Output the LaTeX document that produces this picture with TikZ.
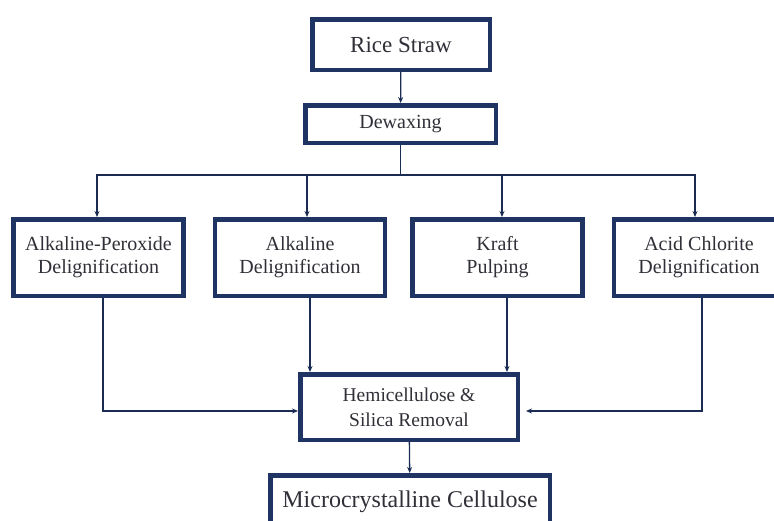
\documentclass[tikz,border=0pt]{standalone}
\usepackage{fontspec}
\setmainfont{Liberation Serif}
\usetikzlibrary{arrows.meta}
\definecolor{navy}{RGB}{31,52,98}
\definecolor{ink}{RGB}{48,48,56}

\tikzset{
	box/.style = {draw = navy,
				  line width = 4.5pt,
				  fill = white,
				  text = ink,
				  align = center,
				  inner sep = 2pt},
	stagebox/.style = {box,
					   minimum width = 170pt,
					   minimum height = 76.5pt,
					   font = \fontsize{20}{23}\selectfont},
	flow/.style = {draw = navy!85!black,
				   line width = 1.3pt,
				   -{Stealth[length = 6pt, width = 5pt]}},
	link/.style = {draw = navy!85!black,
				   line width = 1.3pt}
}

\begin{document}
\begin{tikzpicture}[x = 1pt, y = -1pt]
	\useasboundingbox (0,0) rectangle (774,520);
	\clip (0,0) rectangle (774,520);

	% top of the chain
	\node[box,
		  minimum width = 177.5pt,
		  minimum height = 50.5pt,
		  font = \fontsize{23}{26}\selectfont] (rice) at (401,44.5) {Rice Straw};
	\node[box,
		  minimum width = 190.5pt,
		  minimum height = 37.5pt,
		  font = \fontsize{20}{23}\selectfont] (dewax) at (400.5,124) {Dewaxing};

	% four routes
	\node[stagebox] (alkper) at (98.5,257.5) {Alkaline-Peroxide\\Delignification};
	\node[stagebox] (alk) at (300,257.5) {Alkaline\\Delignification};
	\node[stagebox] (kraft) at (497.5,257.5) {Kraft\\Pulping};
	\node[stagebox] (acid) at (699,257.5) {Acid Chlorite\\Delignification};

	% bottom of the chain
	\node[box,
		  minimum width = 217.5pt,
		  minimum height = 65.5pt,
		  font = \fontsize{19.5}{25}\selectfont] (hemi) at (409,407) {Hemicellulose \&\\Silica Removal};
	\node[box,
		  minimum width = 279.5pt,
		  minimum height = 53.5pt,
		  font = \fontsize{24}{27}\selectfont] (mcc) at (410,502) {Microcrystalline Cellulose};

	\draw[flow] (rice) -- (dewax);

	\coordinate (split) at ([yshift=-30pt]dewax.south);
	\draw[link] (dewax.south) -- (split);
	\draw[flow] (split) -| ([xshift=-1.5pt]alkper.north);
	\draw[flow] (split) -| ([xshift=7pt]alk.north);
	\draw[flow] (split) -| ([xshift=4.5pt]kraft.north);
	\draw[flow] (split) -| ([xshift=-4pt]acid.north);

	\coordinate (alkout) at ([xshift=10pt]alk.south);
	\coordinate (kraftout) at ([xshift=9.5pt]kraft.south);
	\draw[flow] ([xshift=4.5pt]alkper.south) |- ([yshift=-4pt]hemi.west);
	\draw[flow] (alkout) -- (alkout |- hemi.north);
	\draw[flow] (kraftout) -- (kraftout |- hemi.north);
	\draw[flow, shorten >= 6pt] ([xshift=3pt]acid.south) |- ([yshift=-4pt]hemi.east);

	\draw[flow] (hemi) -- (mcc);
\end{tikzpicture}
\end{document}
